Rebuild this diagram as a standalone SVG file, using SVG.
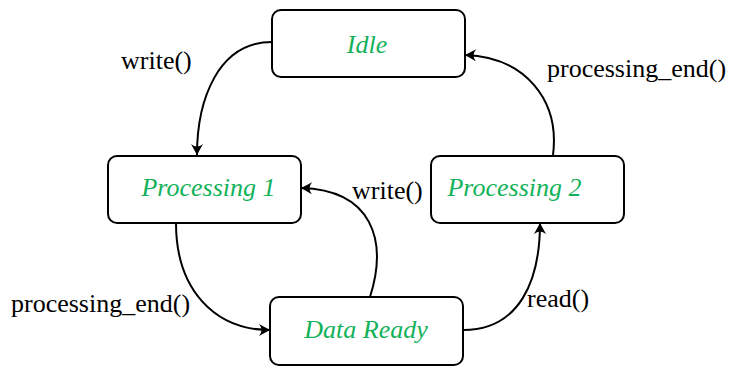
<svg xmlns="http://www.w3.org/2000/svg" width="744" height="369" viewBox="0 0 744 369">
<style>
.box{fill:#fff;stroke:#000;stroke-width:2}
.nt{font-family:'Liberation Serif','Times New Roman',Times,'DejaVu Serif',serif;font-style:italic;font-size:26px;fill:#13b25a;text-anchor:middle}
.lb{font-family:'Liberation Serif','Times New Roman',Times,'DejaVu Serif',serif;font-size:26px;fill:#000}
.cn{fill:none;stroke:#000;stroke-width:2;marker-end:url(#ah)}
</style>
<defs>
<marker id="ah" viewBox="-12 -7 14 14" markerWidth="14" markerHeight="14" refX="0" refY="0" orient="auto" markerUnits="userSpaceOnUse">
<path d="M0,0 L-11,-6 Q-6,0 -11,6 Z" fill="#000"/>
</marker>
</defs>
<rect width="744" height="369" fill="#fff"/>
<g id="connectors">
<path class="cn" d="M272,42 C218,42 197,100 197,155"/>
<path class="cn" d="M553,155 C560,100 525,57 465,55"/>
<path class="cn" d="M176,223 C176,290 215,330 270,330"/>
<path class="cn" d="M370,297 C388,240 372,190 301,188"/>
<path class="cn" d="M463,330 C520,330 540,280 540,223"/>
</g>
<g id="labels">
<text class="lb" x="121" y="69">write()</text>
<text class="lb" x="547" y="77">processing_end()</text>
<text class="lb" x="352" y="199">write()</text>
<text class="lb" x="11" y="312">processing_end()</text>
<text class="lb" x="527" y="307">read()</text>
</g>
<g id="idle">
<rect class="box" x="272" y="10" width="193" height="67" rx="9"/>
<text class="nt" x="367" y="53">Idle</text>
</g>
<g id="processing1">
<rect class="box" x="108" y="156" width="193" height="67" rx="9"/>
<text class="nt" x="208.5" y="196">Processing 1</text>
</g>
<g id="processing2">
<rect class="box" x="431" y="156" width="193" height="67" rx="9"/>
<text class="nt" x="514.5" y="196">Processing 2</text>
</g>
<g id="dataready">
<rect class="box" x="270" y="297" width="193" height="68" rx="9"/>
<text class="nt" x="366" y="338">Data Ready</text>
</g>
</svg>
